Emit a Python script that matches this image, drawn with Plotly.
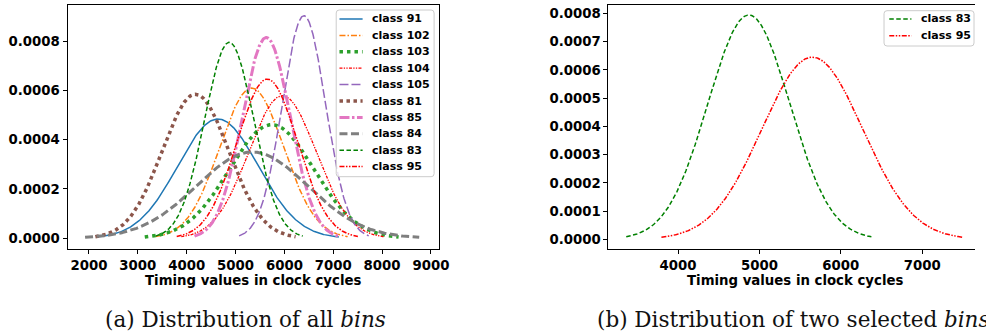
import numpy as np
import plotly.graph_objects as go

# ---------------- data ----------------
class_labels = ["class 91", "class 102", "class 103", "class 104", "class 105",
                "class 81", "class 85", "class 84", "class 83", "class 95"]
# fitted normal distribution of timing values per class (clock cycles)
class_means = [4640, 5330, 5740, 5960, 6400, 4180, 5630, 5340, 4870, 5650]
class_stds = [825, 655, 866, 690, 442, 683, 490, 1140, 502, 618]
selected_labels = ["class 83", "class 95"]

left_xticks = [2000, 3000, 4000, 5000, 6000, 7000, 8000, 9000]
left_yticks = [0.0, 0.0002, 0.0004, 0.0006, 0.0008]
right_xticks = [4000, 5000, 6000, 7000]
right_yticks = [0.0, 0.0001, 0.0002, 0.0003, 0.0004, 0.0005, 0.0006, 0.0007, 0.0008]
x_title = "Timing values in clock cycles"
caption_a = "(a) Distribution of all <i>bins</i>"
caption_b = "(b) Distribution of two selected <i>bins</i>"

# ---------------- styles ----------------
styles = {
    "class 91": dict(color="#1f77b4", width=1.5, dash="solid"),
    "class 102": dict(color="#ff7f0e", width=1.5, dash="6px,2px,1.5px,2px"),
    "class 103": dict(color="#2ca02c", width=3.5, dash="3.5px,4px"),
    "class 104": dict(color="#ff0000", width=1.3, dash="3px,1.3px,1.3px,1.3px,1.3px,1.3px"),
    "class 105": dict(color="#9467bd", width=1.5, dash="9px,3px"),
    "class 81": dict(color="#8c564b", width=3.5, dash="3.5px,3.5px"),
    "class 85": dict(color="#e377c2", width=3, dash="10px,2.5px,2.5px,2.5px"),
    "class 84": dict(color="#7f7f7f", width=3, dash="8px,3.5px"),
    "class 83": dict(color="#008000", width=1.5, dash="4.5px,2.5px"),
    "class 95": dict(color="#ff0000", width=1.5, dash="5px,1.5px,1.5px,1.5px,1.5px,1.5px"),
}

W, H = 986, 334
def px(x):
    return x / W
def py(y):
    return 1 - y / H

def normal_curve(m, s):
    x = np.linspace(m - 3 * s, m + 3 * s, 300)
    y = np.exp(-0.5 * ((x - m) / s) ** 2) / (s * np.sqrt(2 * np.pi))
    return x, y

fig = go.Figure()
for lab, m, s in zip(class_labels, class_means, class_stds):
    x, y = normal_curve(m, s)
    fig.add_trace(go.Scatter(x=x, y=y, mode="lines", name=lab, line=styles[lab],
                             xaxis="x", yaxis="y", showlegend=False))
for lab in selected_labels:
    i = class_labels.index(lab)
    x, y = normal_curve(class_means[i], class_stds[i])
    fig.add_trace(go.Scatter(x=x, y=y, mode="lines", name=lab, line=styles[lab],
                             xaxis="x2", yaxis="y2", showlegend=False))

tickfont = dict(family="DejaVu Sans", size=13.3, color="black", weight="bold")
axis_common = dict(showgrid=False, zeroline=False, showline=True, linecolor="black",
                   linewidth=1, ticks="outside", ticklen=4, tickwidth=1,
                   tickcolor="black", tickfont=tickfont)

ydom = [py(248.7), py(4.5)]
fig.update_layout(
    width=W, height=H, margin=dict(l=0, r=0, t=0, b=0),
    paper_bgcolor="white", plot_bgcolor="white",
    xaxis=dict(domain=[px(68.3), px(443.7)], range=[1561, 9160], tickvals=left_xticks,
               mirror=True, anchor="y", **axis_common),
    yaxis=dict(domain=ydom, range=[-0.0000422, 0.000948], tickvals=left_yticks,
               tickformat=".4f", mirror=True, anchor="x", **axis_common),
    xaxis2=dict(domain=[px(615.3), 1.0], range=[3145, 7649], tickvals=right_xticks,
                mirror=True, anchor="y2", **axis_common),
    yaxis2=dict(domain=ydom, range=[-0.0000332, 0.000832], tickvals=right_yticks,
                tickformat=".4f", mirror=False, anchor="x2", **axis_common),
)

shapes = []
annotations = []

def rounded_box(x0, y0, x1, y1, r=3):
    pts = (f"M {px(x0 + r)},{py(y0)} L {px(x1 - r)},{py(y0)} Q {px(x1)},{py(y0)} {px(x1)},{py(y0 + r)} "
           f"L {px(x1)},{py(y1 - r)} Q {px(x1)},{py(y1)} {px(x1 - r)},{py(y1)} "
           f"L {px(x0 + r)},{py(y1)} Q {px(x0)},{py(y1)} {px(x0)},{py(y1 - r)} "
           f"L {px(x0)},{py(y0 + r)} Q {px(x0)},{py(y0)} {px(x0 + r)},{py(y0)} Z")
    return dict(type="path", path=pts, xref="paper", yref="paper", layer="above",
                fillcolor="rgba(255,255,255,0.8)", line=dict(color="#cccccc", width=1))

def legend(labels, x0, x1, ytop, ybot, sx0, sx1, tx, y_first, step):
    shapes.append(rounded_box(x0, ytop, x1, ybot))
    for k, lab in enumerate(labels):
        yy = y_first + k * step
        st = styles[lab]
        shapes.append(dict(type="line", xref="paper", yref="paper", layer="above",
                           x0=px(sx0), x1=px(sx1), y0=py(yy), y1=py(yy),
                           line=dict(color=st["color"], width=st["width"], dash=st["dash"])))
        annotations.append(dict(text=lab, xref="paper", yref="paper", x=px(tx), y=py(yy),
                                xanchor="left", yanchor="middle", showarrow=False,
                                borderpad=0,
                                font=dict(family="DejaVu Sans", size=11, color="black", weight="bold")))

legend(class_labels, 340, 439, 10, 176.7, 343.3, 366.7, 375, 19, 16.4)
legend(selected_labels, 894, 985, 10.7, 46, 899.3, 921.7, 930, 19, 16.7)

titlefont = dict(family="DejaVu Sans", size=13.3, color="black", weight="bold")
annotations.append(dict(text=x_title, xref="paper", yref="paper", x=px(256), y=py(280),
                        xanchor="center", yanchor="middle", showarrow=False, font=titlefont))
annotations.append(dict(text=x_title, xref="paper", yref="paper", x=px(803.7), y=py(280),
                        xanchor="center", yanchor="middle", showarrow=False, font=titlefont))

capfont = dict(family="DejaVu Serif", size=21.5, color="#111111")
annotations.append(dict(text=caption_a, xref="paper", yref="paper", x=px(248.5), y=py(319),
                        xanchor="center", yanchor="middle", showarrow=False, font=capfont))
annotations.append(dict(text=caption_b, xref="paper", yref="paper", x=px(601.7), y=py(319),
                        xanchor="left", yanchor="middle", showarrow=False, font=capfont))

fig.update_layout(shapes=shapes, annotations=annotations)
fig.write_html("out.html", config={"displayModeBar": False},
               post_script="document.body.style.margin='0';document.body.style.overflow='hidden';")
